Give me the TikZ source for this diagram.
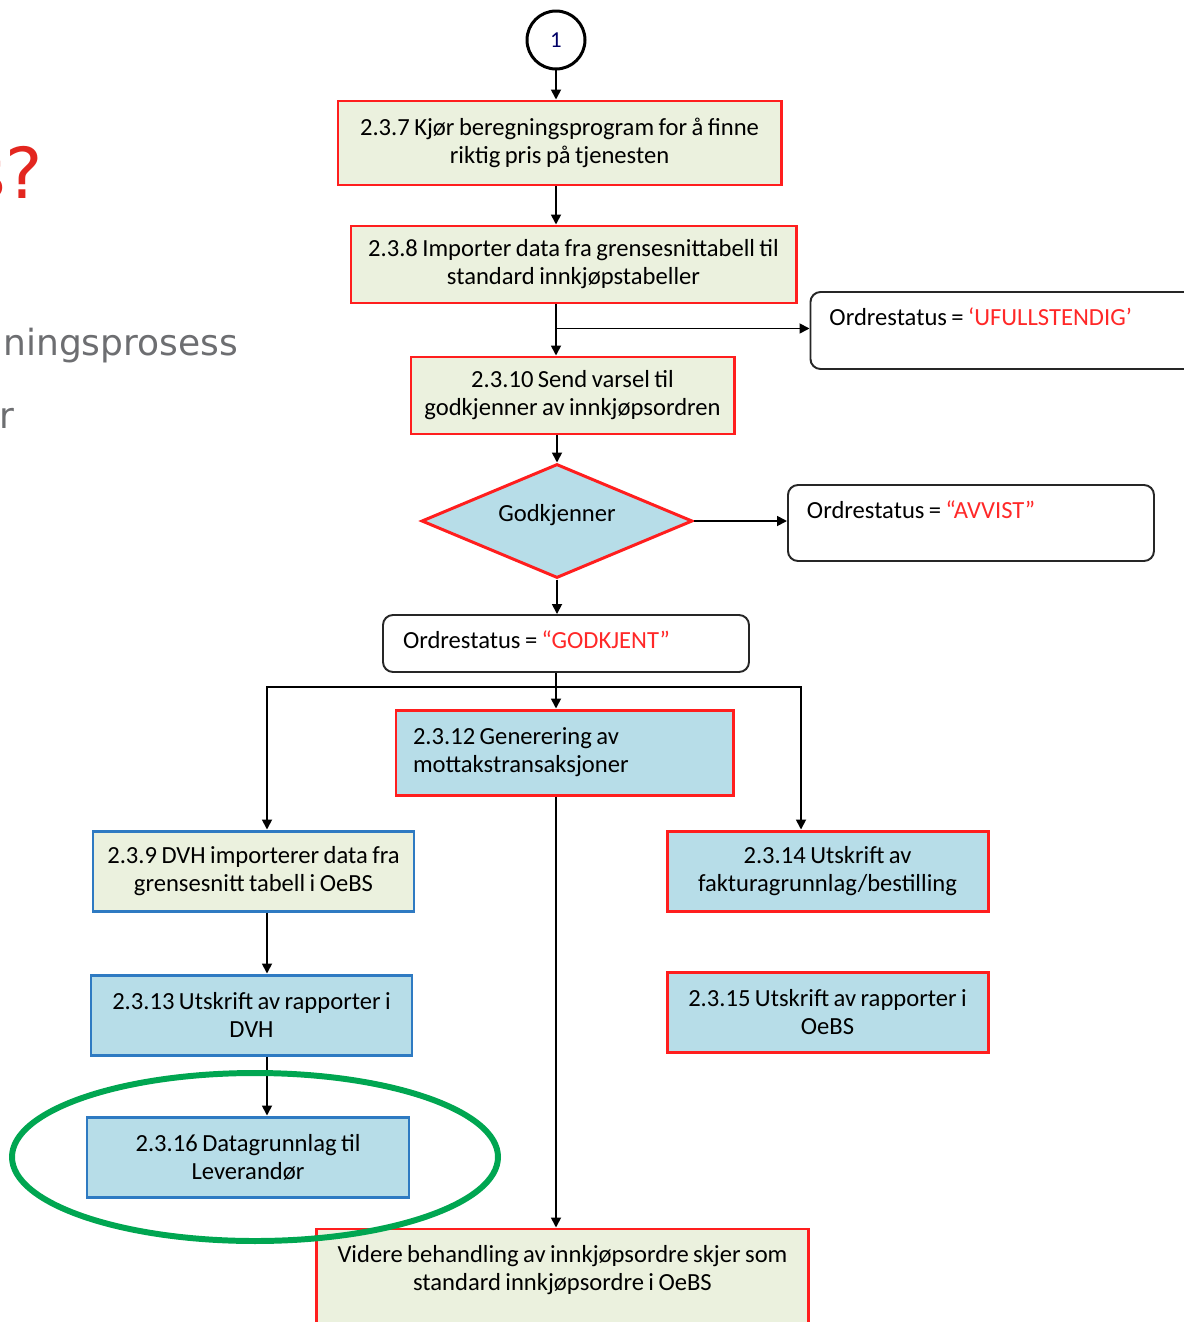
\documentclass[tikz,border=0pt]{standalone}
\usepackage{fontspec}
\setmainfont[WordSpace=0.8]{Carlito}
\newfontfamily\slidefont{DejaVu Sans}
\usetikzlibrary{shapes,arrows.meta,positioning}
\definecolor{boxred}{RGB}{255,30,30}
\definecolor{boxblue}{RGB}{46,122,194}
\definecolor{fillgreen}{RGB}{235,241,222}
\definecolor{fillblue}{RGB}{183,221,232}
\definecolor{ringgreen}{RGB}{0,166,81}
\definecolor{slidegray}{RGB}{109,110,113}
\definecolor{slidered}{RGB}{227,38,31}
\definecolor{statred}{RGB}{255,40,40}

\begin{document}
\begin{tikzpicture}[auto,line width=1pt,node distance=2cm,
		font=\fontsize{14}{16}\selectfont,
		arr/.style={-{Triangle[length=0.2cm,width=0.2cm]}},
		task/.style={rectangle,draw,line width=1.7pt,align=center,inner sep=0pt},
		gtask/.style={task,fill=fillgreen},
		btask/.style={task,fill=fillblue},
		status/.style={rectangle,rounded corners=0.2cm,draw=black!85,line width=1.1pt,fill=white,align=flush left,inner xsep=0.38cm,inner ysep=0.2cm,text height=0.46cm}]
		\useasboundingbox (0,0) rectangle (23.68,-26.44);

		% slide text at the left
		\node[font=\slidefont\fontsize{40}{48}\selectfont,text=slidered,anchor=base east,inner sep=0pt] (qmark) at (0.88,-3.96) {s?};
		\node[font=\slidefont\fontsize{20.5}{24}\selectfont,text=slidegray,anchor=base east,inner sep=0pt] (sub1) at (4.78,-7.1) {ningsprosess};
		\node[font=\slidefont\fontsize{20.5}{24}\selectfont,text=slidegray,anchor=base east,inner sep=0pt] (sub2) at (0.3,-8.56) {r};

		% main chain
		\node[circle,draw,line width=1.7pt,minimum size=1.16cm,inner sep=0pt,font=\fontsize{13}{15}\selectfont,text=blue!40!black] (c1) at (11.12,-0.8) {1};
		\node[gtask,draw=boxred,minimum width=8.86cm,minimum height=1.68cm,below of=c1,node distance=2.06cm,xshift=0.07cm] (b237) {2.3.7 Kjør beregningsprogram for å finne\\riktig pris på tjenesten};
		\node[gtask,draw=boxred,minimum width=8.9cm,minimum height=1.54cm,below of=b237,node distance=2.43cm,xshift=0.28cm] (b238) {2.3.8 Importer data fra grensesnittabell til\\standard innkjøpstabeller};
		\node[gtask,draw=boxred,minimum width=6.46cm,minimum height=1.54cm,below of=b238,node distance=2.62cm,xshift=-0.02cm] (b2310) {2.3.10 Send varsel til\\godkjenner av innkjøpsordren};
		\node[diamond,aspect=2.38,draw=boxred,fill=fillblue,line width=1.7pt,inner sep=0pt,minimum width=5.42cm,minimum height=2.28cm,below of=b2310,node distance=2.51cm,xshift=-0.31cm] (dia) {\raisebox{0.32cm}{Godkjenner}};
		\node[status,inner xsep=0.4cm,text width=6.52cm,text depth=0.28cm,below of=dia,node distance=2.45cm,xshift=0.18cm] (god) {Ordrestatus = \textcolor{statred}{“GODKJENT”}};

		% status boxes to the right
		\node[status,text width=7.08cm,text depth=0.68cm,anchor=west] (ufull) at ([xshift=0.24cm,yshift=-1.32cm]b238.east) {Ordrestatus = \textcolor{statred}{‘UFULLSTENDIG’}};
		\node[status,text width=6.56cm,text depth=0.66cm,anchor=west] (avvist) at ([xshift=1.86cm,yshift=-0.04cm]dia.east) {Ordrestatus = \textcolor{statred}{“AVVIST”}};

		% after approval
		\node[btask,draw=boxred,align=flush left,text width=6.06cm,inner xsep=0.34cm,minimum height=1.7cm,below of=god,node distance=2.18cm,xshift=-0.03cm] (b2312) {2.3.12 Generering av\\mottakstransaksjoner};
		\node[gtask,draw=boxblue,minimum width=6.42cm,minimum height=1.6cm,below of=b2312,node distance=2.37cm,xshift=-6.22cm] (b239) {2.3.9 DVH importerer data fra\\grensesnitt tabell i OeBS};
		\node[btask,draw=boxred,minimum width=6.42cm,minimum height=1.6cm,right of=b239,node distance=11.48cm] (b2314) {2.3.14 Utskrift av\\fakturagrunnlag/bestilling};
		\node[btask,draw=boxblue,minimum width=6.42cm,minimum height=1.6cm,below of=b239,node distance=2.88cm,xshift=-0.04cm] (b2313) {2.3.13 Utskrift av rapporter i\\DVH};
		\node[btask,draw=boxred,minimum width=6.42cm,minimum height=1.6cm,below of=b2314,node distance=2.82cm] (b2315) {2.3.15 Utskrift av rapporter i\\OeBS};
		\node[btask,draw=boxblue,minimum width=6.44cm,minimum height=1.6cm,below of=b2313,node distance=2.84cm,xshift=-0.07cm] (b2316) {2.3.16 Datagrunnlag til\\Leverandør};
		\node[gtask,draw=boxred,align=flush center,text width=9.84cm,inner ysep=0.32cm,text depth=1.4cm,below=8.62cm of b2312,xshift=-0.04cm] (final) {Videre behandling av innkjøpsordre skjer som\\standard innkjøpsordre i OeBS};

		% connectors
		\draw[arr] (c1) -- (b237.north -| c1);
		\draw[arr] (b237.south -| c1) -- (b238.north -| c1);
		\draw[arr] (b238.south -| c1) -- (b2310.north -| c1);
		\path (b238.south -| c1) ++(0,-0.48) coordinate (tap);
		\draw[arr] (tap) -- (tap -| ufull.west);
		\draw[arr] (b2310.south -| dia.north) -- (dia.north);
		\draw[arr] (dia.east) -- (dia.east -| avvist.west);
		\draw[arr] (dia.south) -- (god.north -| dia.south);
		\path (god.south -| c1) ++(0,-0.28) coordinate (split);
		\coordinate (lcol) at ([xshift=0.27cm]b239.north);
		\coordinate (rcol) at ([xshift=-0.53cm]b2314.north);
		\draw (god.south -| c1) -- (split);
		\draw[arr] (split) -- (b2312.north -| split);
		\draw[arr] (split) -| (lcol);
		\draw[arr] (split) -| (rcol);
		\draw[arr] (b239.south -| lcol) -- (b2313.north -| lcol);
		\draw[arr] (b2313.south -| lcol) -- (b2316.north -| lcol);
		\draw[arr] (b2312.south -| c1) -- (final.north -| c1);

		% highlight
		\draw[ringgreen,line width=3.4pt] ([xshift=0.14cm]b2316.center) ellipse (4.86cm and 1.68cm);
	\end{tikzpicture}
\end{document}
